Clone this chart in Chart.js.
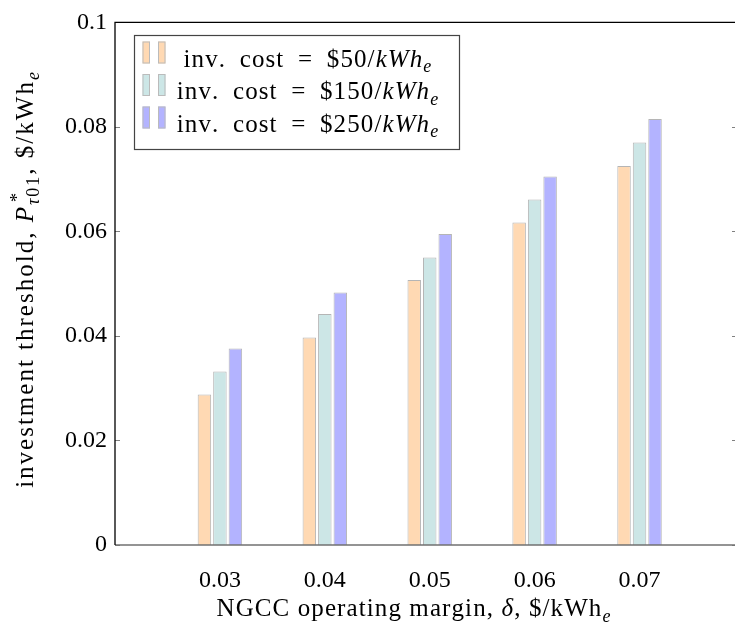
<!DOCTYPE html>
<html>
<head>
<meta charset="utf-8">
<script src="https://cdn.jsdelivr.net/npm/chart.js@4.4.1/dist/chart.umd.min.js"></script>
<style>
  html, body { margin: 0; padding: 0; background: #fff; overflow: hidden; }
  #myChart { display: block; }
</style>
</head>
<body>
<canvas id="myChart" width="735" height="627"></canvas>
<script>

// data
const margins = [0.03, 0.04, 0.05, 0.06, 0.07];
const cost50 = [0.0288, 0.0397, 0.0507, 0.0617, 0.0725];
const cost150 = [0.0332, 0.0442, 0.0550, 0.0661, 0.0770];
const cost250 = [0.0376, 0.0483, 0.0595, 0.0705, 0.0815];
const costLabels = ['$50', '$150', '$250'];
const yTicks = [0, 0.02, 0.04, 0.06, 0.08, 0.1];

const fills = ['#ffd9b3', '#cce6e6', '#b3b3ff'];
const FONT = "'Liberation Serif', 'DejaVu Serif', serif";
const FS = 24;
const TS = 25;      // title / legend text size

//------------------------------------------------------------------
// little helper for text with italics / sub / superscripts
// sp = extra letter spacing, the latex fonts run wider

function setF(ctx, size, it){
    ctx.font = (it ? 'italic ' : '') + size + 'px ' + FONT;
}

function segWidth(ctx, s, sz, sp){
    setF(ctx, sz, s.it);
    let w = 0;
    for (const ch of s.t) w += ctx.measureText(ch).width + sp;
    return w;
}

function layoutRich(ctx, segs, size, sp){
    let x = 0, maxX = 0;
    const out = [];
    segs.forEach(s => {
        const sz = s.lvl ? size * 0.72 : size;
        const w = segWidth(ctx, s, sz, sp);
        let dy = 0;
        if( s.lvl == -1 ) dy = size * 0.22;
        if( s.lvl == 1 ) dy = -size * 0.4;
        out.push({ s: s, x: x + (s.kern || 0), sz: sz, dy: dy });
        maxX = Math.max(maxX, x + w + (s.kern || 0));
        if( !s.back ) x += w + (s.kern || 0);
    });
    return { out: out, width: Math.max(x, maxX) };
}

function drawRich(ctx, segs, size, cx, baseline, sp){
    const L = layoutRich(ctx, segs, size, sp);
    const x0 = cx - L.width / 2;
    ctx.textAlign = 'left';
    ctx.textBaseline = 'alphabetic';
    ctx.fillStyle = '#000';
    L.out.forEach(o => {
        setF(ctx, o.sz, o.s.it);
        let x = x0 + o.x;
        for (const ch of o.s.t) {
            ctx.fillText(ch, x, baseline + o.dy);
            x += ctx.measureText(ch).width + sp;
        }
    });
}

function legendSegs(c){
    return [
        { t: 'inv.\u2002cost\u2002=\u2002' + c + '/' },
        { t: 'kWh', it: true },
        { t: 'e', it: true, lvl: -1 }
    ];
}

const xTitle = [
    { t: 'NGCC operating margin, ' },
    { t: 'δ', it: true },
    { t: ', $/kWh' },
    { t: 'e', it: true, lvl: -1 }
];

const yTitle = [
    { t: 'investment threshold, ' },
    { t: 'P', it: true },
    { t: '*', lvl: 1, back: true, kern: 3 },
    { t: 'τ', it: true, lvl: -1 },
    { t: '01', lvl: -1 },
    { t: ', $/kWh' },
    { t: 'e', it: true, lvl: -1 }
];

//------------------------------------------------------------------

const framePlugin = {
    id: 'frame',
    afterDraw(chart){
        const ctx = chart.ctx;
        const a = chart.chartArea;
        const ys = chart.scales.y;
        ctx.save();

        // inner ticks on y (right axis sits just past the picture edge)
        ctx.strokeStyle = '#808080';
        ctx.lineWidth = 1;
        yTicks.forEach(v => {
            const py = Math.round(ys.getPixelForValue(v)) + 0.5;
            ctx.beginPath();
            ctx.moveTo(a.left, py); ctx.lineTo(a.left + 5, py);
            ctx.moveTo(a.right - 3, py); ctx.lineTo(a.right, py);
            ctx.stroke();
        });

        // frame
        ctx.lineWidth = 1.3;
        ctx.strokeStyle = '#707070';
        ctx.beginPath();
        ctx.moveTo(a.left, a.bottom); ctx.lineTo(a.right, a.bottom);
        ctx.stroke();
        ctx.strokeStyle = '#000';
        ctx.beginPath();
        ctx.moveTo(a.left, a.bottom); ctx.lineTo(a.left, a.top);
        ctx.lineTo(a.right, a.top);
        ctx.stroke();

        // legend
        const lx = 134, ly = 35, lw = 325, lh = 114;
        ctx.fillStyle = '#fff';
        ctx.fillRect(lx, ly, lw, lh);
        ctx.strokeStyle = '#444';
        ctx.lineWidth = 1.2;
        ctx.strokeRect(lx + 0.5, ly + 0.5, lw, lh);

        chart.data.datasets.forEach((ds, i) => {
            const base = 66.5 + i * 32.5;
            [142.5, 158].forEach(sx => {
                ctx.fillStyle = ds.backgroundColor;
                ctx.fillRect(sx, base - 25, 7.5, 22);
                ctx.strokeStyle = '#bbb';
                ctx.lineWidth = 1;
                ctx.strokeRect(sx + 0.5, base - 24.5, 6.5, 21);
            });
            drawRich(ctx, legendSegs(costLabels[i]), TS, 308, base, 1.1);
        });

        // axis titles
        drawRich(ctx, xTitle, TS, 414, 616, 1.1);
        ctx.translate(33, 279);
        ctx.rotate(-Math.PI / 2);
        drawRich(ctx, yTitle, TS, 0, 0, 2.0);

        ctx.restore();
    }
};

function series(vals){
    return margins.map((m, i) => ({ x: m, y: vals[i] }));
}

const ctx = document.getElementById('myChart');

const chart = new Chart(ctx, {
    type: 'bar',
    data: {
        datasets: [cost50, cost150, cost250].map((vals, i) => ({
            label: 'inv. cost = ' + costLabels[i] + '/kWh_e',
            data: series(vals),
            backgroundColor: fills[i],
            borderColor: '#b5b5b5',
            borderWidth: 1,
            categoryPercentage: 0.443,
            barPercentage: 0.87
        }))
    },
    options: {
        responsive: false,
        animation: false,
        devicePixelRatio: 1,
        layout: { padding: { left: 0, top: 18, right: 0, bottom: 0 } },
        plugins: {
            legend: { display: false },
            tooltip: { enabled: false }
        },
        scales: {
            x: {
                type: 'linear',
                offset: false,
                min: 0.02,
                max: 0.0791,
                grid: { display: false, drawTicks: false, offset: false },
                border: { display: false },
                afterBuildTicks: s => { s.ticks = margins.map(v => ({ value: v })); },
                afterFit: s => { s.height = 82; },
                ticks: {
                    autoSkip: false,
                    maxRotation: 0,
                    padding: 21,
                    color: '#000',
                    font: { family: FONT, size: FS },
                    callback: v => v.toFixed(2)
                }
            },
            y: {
                min: 0,
                max: 0.1,
                grid: { display: false, drawTicks: false },
                border: { display: false },
                afterBuildTicks: s => { s.ticks = yTicks.map(v => ({ value: v })); },
                afterFit: s => { s.width = 115; },
                ticks: {
                    padding: 8,
                    color: '#000',
                    font: { family: FONT, size: FS },
                    callback: v => String(+v.toFixed(3))
                }
            }
        }
    },
    plugins: [framePlugin]
});

</script>
</body>
</html>
